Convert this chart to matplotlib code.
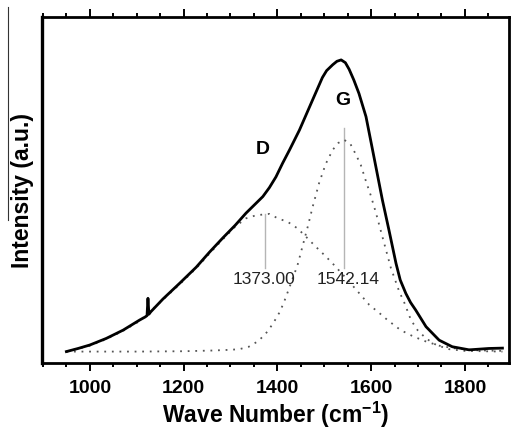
import matplotlib
matplotlib.use("Agg")
import matplotlib.pyplot as plt
from matplotlib.lines import Line2D
from matplotlib.ticker import MultipleLocator, NullLocator

plt.rcParams['font.family'] = ['Liberation Sans', 'DejaVu Sans']
plt.rcParams['mathtext.fontset'] = 'custom'
plt.rcParams['mathtext.rm'] = 'Liberation Sans:bold'
plt.rcParams['mathtext.bf'] = 'Liberation Sans:bold'

# Measured spectrum (solid)
spec_x = [950, 975, 1000, 1035, 1071, 1106, 1118, 1122, 1124, 1126, 1130, 1156, 1192, 1227, 1255,
          1284, 1310, 1333, 1369, 1383, 1397, 1411, 1426, 1447, 1475, 1496, 1505, 1518, 1527,
          1536, 1545, 1553, 1563, 1574, 1589, 1603, 1624, 1638, 1653, 1662, 1674, 1684, 1695,
          1717, 1745, 1773, 1809, 1851, 1880]
spec_y = [0.033, 0.042, 0.052, 0.071, 0.095, 0.124, 0.133, 0.137, 0.187, 0.141, 0.148, 0.185, 0.231,
          0.277, 0.320, 0.362, 0.398, 0.433, 0.481, 0.507, 0.538, 0.577, 0.616, 0.673, 0.760, 0.825,
          0.845, 0.862, 0.872, 0.876, 0.868, 0.849, 0.818, 0.779, 0.712, 0.616, 0.471, 0.384, 0.288,
          0.240, 0.201, 0.175, 0.153, 0.105, 0.066, 0.047, 0.038, 0.042, 0.043]

# Fitted D band (dotted)
d_x = [950, 1000, 1035, 1071, 1106, 1156, 1192, 1227, 1255, 1284, 1310, 1333, 1350, 1362, 1383,
       1401, 1422, 1443, 1461, 1482, 1504, 1521, 1550, 1575, 1596, 1617, 1635, 1663, 1688, 1713,
       1745, 1780, 1820, 1880]
d_y = [0.033, 0.050, 0.069, 0.093, 0.121, 0.183, 0.228, 0.274, 0.316, 0.358, 0.394, 0.418, 0.425,
       0.428, 0.431, 0.418, 0.408, 0.389, 0.365, 0.336, 0.307, 0.283, 0.240, 0.201, 0.168, 0.145,
       0.124, 0.095, 0.078, 0.064, 0.050, 0.042, 0.037, 0.035]

# Fitted G band (dotted)
g_x = [950, 1000, 1100, 1200, 1260, 1298, 1319, 1339, 1360, 1379, 1392, 1404, 1413, 1421,
       1443, 1465, 1475, 1489, 1503, 1518, 1530, 1542, 1555, 1568, 1578, 1589, 1599, 1610,
       1621, 1631, 1642, 1660, 1670, 1685, 1699, 1717, 1739, 1766, 1800, 1880]
g_y = [0.033, 0.033, 0.033, 0.034, 0.036, 0.038, 0.040, 0.047, 0.064, 0.091, 0.117, 0.145, 0.172, 0.201,
       0.283, 0.395, 0.450, 0.520, 0.575, 0.616, 0.636, 0.645, 0.635, 0.601, 0.572, 0.525, 0.485, 0.435,
       0.380, 0.330, 0.275, 0.206, 0.177, 0.124, 0.095, 0.071, 0.052, 0.040, 0.035, 0.033]

peak_pos = [1373.00, 1542.14]
peak_labels = ['1373.00', '1542.14']
peak_top = [0.431, 0.679]
band_names = ['D', 'G']

fig = plt.figure(figsize=(5.11, 4.37), dpi=100)
ax = fig.add_axes([42/511, 74/437, 467/511, 346/437])

ax.plot(d_x, d_y, color='#555555', lw=1.3, linestyle=(0, (1, 3.2)), zorder=2)
ax.plot(g_x, g_y, color='#555555', lw=1.3, linestyle=(0, (1, 3.2)), zorder=2)
ax.plot(spec_x, spec_y, color='black', lw=2.0, zorder=3, solid_joinstyle='round')

for p, top in zip(peak_pos, peak_top):
    ax.plot([p, p], [0.275, top], color='#b5b5b5', lw=1.0, zorder=1)

ax.text(1369, 0.616, band_names[0], fontsize=14, fontweight='bold', ha='center', va='center')
ax.text(1539, 0.760, band_names[1], fontsize=14, fontweight='bold', ha='center', va='center')
ax.text(1372, 0.24, peak_labels[0], fontsize=12.5, ha='center', va='center', color='#222222')
ax.text(1550, 0.24, peak_labels[1], fontsize=12.5, ha='center', va='center', color='#222222')

ax.set_xlim(898, 1894)
ax.set_ylim(0, 1)
ax.xaxis.set_major_locator(MultipleLocator(200))
ax.xaxis.set_minor_locator(MultipleLocator(50))
ax.yaxis.set_major_locator(NullLocator())
ax.yaxis.set_minor_locator(NullLocator())
ax.tick_params(axis='x', which='both', direction='out', top=True, bottom=True, labeltop=False,
               width=1.4)
ax.tick_params(axis='x', which='major', length=6, pad=6, labelsize=14)
ax.tick_params(axis='x', which='minor', length=3)
for lab in ax.get_xticklabels():
    lab.set_fontweight('bold')

for side in ['top', 'right', 'bottom']:
    ax.spines[side].set_linewidth(2.0)
ax.spines['left'].set_linewidth(2.4)

ax.set_xlabel('Wave Number (cm$^{-1}$)', fontsize=16.5, fontweight='bold', labelpad=2)
ax.set_ylabel('Intensity (a.u.)', fontsize=16.5, fontweight='bold', labelpad=6)

fig.add_artist(Line2D([8/511, 8/511], [1 - 7/437, 1 - 220/437], transform=fig.transFigure,
                      color='#333333', lw=0.8))

fig.savefig('out.png', dpi=100)
